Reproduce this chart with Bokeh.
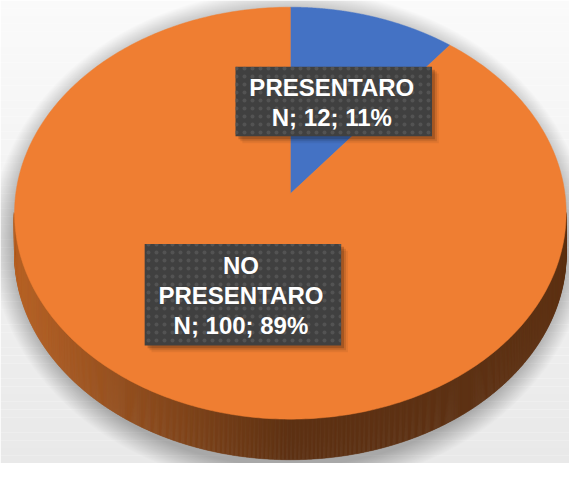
import numpy as np
from bokeh.plotting import figure
from bokeh.models import Range1d
from bokeh.embed import file_html
from bokeh.resources import INLINE
from bokeh.core.properties import value

# ---- data ----
categories = ["PRESENTARO", "NO PRESENTARO"]
label_lines = [["PRESENTARO"], ["NO", "PRESENTARO"]]
series_name = "N"
counts = [12, 100]
colors = ["#4472C4", "#EF7E32"]

# ---- projection of the tilted pie (reference px coordinates) ----
X0, Y0 = 298.0, 200.0
A, B, K = 282.3, 211.2, -0.094
DEPTH = 42.0


def proj(theta, r=1.0):
    u = r * np.sin(theta)
    v = -r * np.cos(theta)
    w = 1.0 + K * v
    return X0 + A * u / w, Y0 + B * v / w


W, H = 569, 463
p = figure(width=W, height=H, output_backend="svg", toolbar_location=None,
           x_range=Range1d(0, 585), y_range=Range1d(479, 0),
           min_border=0, outline_line_color=None)
p.axis.visible = False
p.grid.visible = False
p.background_fill_color = "#ffffff"
p.border_fill_color = "#ffffff"

# background gradient
nstrip = 60
edges = np.linspace(0, 479, nstrip + 1)
bg_cols = []
for i in range(nstrip):
    t = i / (nstrip - 1)
    c = int(round(250 - (250 - 233) * t))
    bg_cols.append("#%02x%02x%02x" % (c, c, c))
p.quad(left=0, right=585, top=edges[:-1], bottom=edges[1:], fill_color=bg_cols,
       line_color=None)

# soft shadow below pie
cx_e, cy_e = 297.5, 220.0 + DEPTH / 2 + 6
for s in range(22, 0, -1):
    p.ellipse(x=cx_e, y=cy_e, width=567 + 2.2 * s, height=426 + DEPTH + 2.2 * s,
              fill_color="black", fill_alpha=0.013, line_color=None)

# side (wall) of the pie
th = np.linspace(0, 2 * np.pi, 1441)
px, py = proj(th)
i_right = int(np.argmax(px))
i_left = int(np.argmin(px))
idx = np.arange(i_right, i_left + 1)
side_xs, side_ys, side_cols = [], [], []
for a, b in zip(idx[:-1], idx[1:]):
    side_xs.append([px[a], px[b] + 0.6 * np.sign(px[b] - px[a]), px[b], px[a]])
    side_ys.append([py[a] - 1, py[b] - 1, py[b] + DEPTH, py[a] + DEPTH])
    xm = 0.5 * (px[a] + px[b])
    t = min(max((xm - 14) / (300 - 14), 0.0), 1.0)
    c0 = np.array([184, 100, 40])
    c1 = np.array([94, 50, 20])
    c = (c0 + (c1 - c0) * t).astype(int)
    side_cols.append("#%02x%02x%02x" % tuple(c))
p.patches(xs=side_xs, ys=side_ys, fill_color=side_cols, line_color=side_cols,
          line_width=0.5)

# top face slices
total = float(sum(counts))
fr = np.cumsum([0] + counts) / total
mid_pts = []
for i, cat in enumerate(categories):
    t0, t1 = fr[i] * 2 * np.pi, fr[i + 1] * 2 * np.pi
    tt = np.linspace(t0, t1, 400)
    sx, sy = proj(tt)
    xs = [X0] + list(sx)
    ys = [Y0] + list(sy)
    p.patch(xs, ys, fill_color=colors[i], line_color=colors[i], line_width=0.5)
    mid_pts.append(proj(0.5 * (t0 + t1), 0.5))

# data labels
for i, cat in enumerate(categories):
    pct = int(round(100 * counts[i] / total))
    lines = label_lines[i] + [f"{series_name}; {counts[i]}; {pct}%"]
    mx, my = mid_pts[i]
    bw = 202
    bh = 33 * len(lines) + 6
    for o, al in [(7, 0.06), (5, 0.1), (3, 0.18)]:
        p.rect(x=mx + o, y=my + o, width=bw, height=bh, fill_color="black",
               fill_alpha=al, line_color=None)
    p.rect(x=mx, y=my, width=bw, height=bh, fill_color="#404040",
           hatch_pattern=".", hatch_color="#575757", hatch_scale=8,
           hatch_alpha=0.8, line_color=None)
    p.text(x=[mx - 2], y=[my + 1], text=["\n".join(lines)], text_color="white",
           text_font=value("Liberation Sans"), text_font_style="bold",
           text_font_size="24px", text_align="center",
           text_baseline="middle", text_line_height=1.1)

open("out.html", "w").write(file_html(p, INLINE))
